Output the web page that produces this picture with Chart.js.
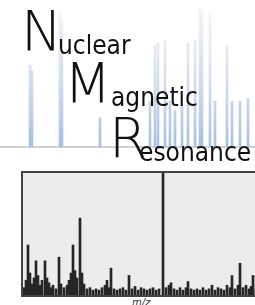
<!DOCTYPE html>
<html>
<head>
<meta charset="utf-8">
<script src="https://cdn.jsdelivr.net/npm/chart.js@4"></script>
<style>
  html, body { margin: 0; padding: 0; background: #fff; overflow: hidden; }
  body { width: 255px; height: 305px; position: relative; font-family: "DejaVu Sans", sans-serif; }
  #nmr-wrap { position: absolute; left: 0; top: 0; width: 255px; height: 150px; }
  #ms-wrap { position: absolute; left: 21px; top: 171px; width: 244px; height: 122px;
    background: #ececec; border: 2px solid #444; }
  .big { position: absolute; font-weight: 200; font-size: 55px; line-height: 55px; color: #111; }
  .small { position: absolute; font-family: "DejaVu Sans Condensed", "DejaVu Sans", sans-serif;
    font-weight: 400; font-size: 26px; line-height: 26px; color: #111; }
  #mz { position: absolute; left: 132px; top: 297px; font-size: 10px; font-style: italic; color: #333; }
</style>
</head>
<body>
<div id="nmr-wrap"><canvas id="nmr-chart"></canvas></div>
<div id="ms-wrap"><canvas id="ms-chart"></canvas></div>
<div class="big" style="left:21px; top:4px;">N</div>
<div class="small" style="left:58px; top:32px;">uclear</div>
<div class="big" style="left:64px; top:56px;">M</div>
<div class="small" style="left:111px; top:84px;">agnetic</div>
<div class="big" style="left:109px; top:111px;">R</div>
<div class="small" style="left:139px; top:139px;">esonance</div>
<div id="mz">m/z</div>
<script>
// NMR spectrum (upper part), arbitrary shift units
const nmrShift = [30, 32, 60, 62, 100, 150, 155, 158, 165, 170, 175, 182, 188, 195, 200, 202, 210, 215, 227, 232, 240, 248];
const nmrHeight = [59, 55, 97, 90, 21, 33, 73, 75, 77, 33, 26, 30, 75, 77, 99, 97, 95, 33, 73, 33, 33, 35];

// mass spectrum (lower box)
const msMz = [21, 23, 25, 27, 29, 31, 33, 35, 37, 39, 42, 44, 46, 48, 50, 53, 56, 58, 61, 64, 66, 68, 70, 72, 74, 77, 79, 81, 84, 87, 90, 93, 96, 99, 102, 104, 106, 108, 111, 114, 117, 120, 123, 126, 129, 132, 135, 138, 141, 144, 147, 150, 153, 156, 160, 163, 166, 168, 171, 174, 177, 180, 183, 185, 188, 191, 194, 197, 200, 203, 206, 209, 212, 215, 218, 221, 224, 227, 229, 232, 235, 237, 240, 243, 246, 248, 250, 253, 256, 259];
const msIntensity = [6, 12, 41, 18, 9, 14, 28, 16, 8, 12, 28, 14, 10, 6, 8, 5, 31, 9, 6, 8, 12, 18, 41, 20, 14, 63, 18, 9, 5, 6, 4, 5, 4, 6, 8, 12, 6, 22, 5, 4, 5, 6, 4, 16, 5, 7, 4, 6, 5, 4, 5, 6, 4, 5, 100, 6, 8, 10, 5, 4, 6, 4, 6, 11, 5, 4, 5, 4, 6, 4, 5, 8, 4, 6, 5, 4, 8, 6, 16, 5, 8, 26, 6, 8, 5, 7, 16, 5, 6, 4];

const nmrColor = (ctx) => {
  const area = ctx.chart.chartArea;
  if (!area) return "#b4c8e6";
  const g = ctx.chart.ctx.createLinearGradient(0, area.top, 0, area.bottom);
  g.addColorStop(0, "rgba(232,234,238,0.5)");
  g.addColorStop(0.45, "rgba(212,220,234,0.85)");
  g.addColorStop(1, "#a6bfe4");
  return g;
};

new Chart(document.getElementById("nmr-chart"), {
  type: "bar",
  data: {
    datasets: [{
      data: nmrShift.map((x, i) => ({ x: x, y: nmrHeight[i] })),
      backgroundColor: nmrColor,
      barThickness: 2,
    }],
  },
  options: {
    responsive: true,
    maintainAspectRatio: false,
    animation: false,
    layout: { padding: { top: 8, bottom: 3, left: 0, right: 0 } },
    plugins: { legend: { display: false }, tooltip: { enabled: false } },
    scales: {
      x: {
        type: "linear", min: 0, max: 255, offset: false,
        grid: { display: false, drawTicks: false },
        ticks: { display: false },
        border: { color: "#d2d2d2", width: 2 },
      },
      y: { display: false, min: 0, max: 100 },
    },
  },
});

new Chart(document.getElementById("ms-chart"), {
  type: "bar",
  data: {
    datasets: [{
      data: msMz.map((x, i) => ({ x: x, y: msIntensity[i] })),
      backgroundColor: "#262626",
      barThickness: 2,
    }],
  },
  options: {
    responsive: true,
    maintainAspectRatio: false,
    animation: false,
    layout: { padding: 0 },
    plugins: { legend: { display: false }, tooltip: { enabled: false } },
    scales: {
      x: { type: "linear", display: false, min: 20, max: 264, offset: false },
      y: { display: false, min: 0, max: 100 },
    },
  },
});
</script>
</body>
</html>
